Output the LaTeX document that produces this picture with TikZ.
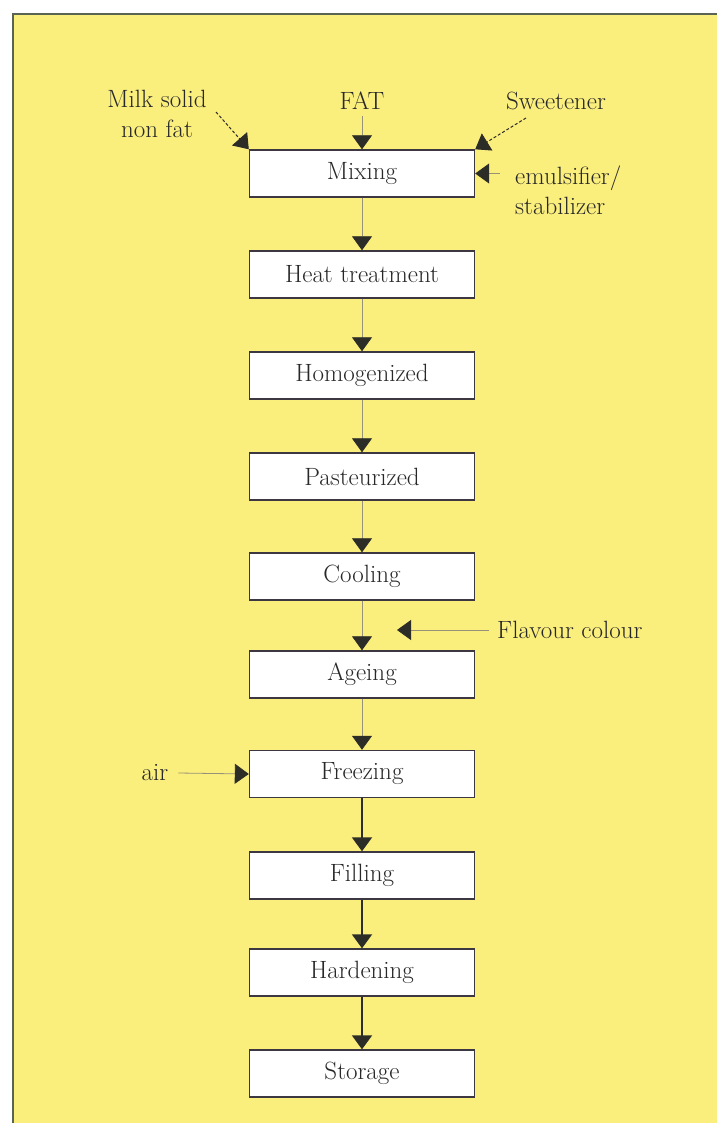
\documentclass[tikz,border=0pt]{standalone}
\usetikzlibrary{arrows.meta}
\definecolor{bgyellow}{RGB}{250,238,125}
\definecolor{framecol}{RGB}{90,100,85}
\definecolor{boxline}{RGB}{60,55,65}
\definecolor{arrowcol}{RGB}{45,45,40}
\definecolor{thinline}{RGB}{150,145,120}
\definecolor{txt}{RGB}{40,40,40}
\begin{document}
\begin{tikzpicture}[x=1pt,y=-1pt,
  font=\fontsize{25}{30}\selectfont,
  stepbox/.style={draw=boxline,line width=1.4pt,fill=white,minimum width=225pt,minimum height=47pt,inner sep=0pt,text=txt},
  lbl/.style={inner sep=0pt,text=txt},
  thinarrow/.style={-{Triangle[width=20pt,length=14pt,color=arrowcol]},draw=thinline,line width=0.8pt},
  thickarrow/.style={-{Triangle[width=20pt,length=14pt,color=arrowcol]},draw=arrowcol,line width=2pt},
  dasharrow/.style={-{Triangle[width=20pt,length=14pt,color=arrowcol]},draw=arrowcol,line width=1pt,dash pattern=on 3pt off 2pt}]
\useasboundingbox (0,0) rectangle (717,1123);
\fill[white] (0,0) rectangle (717,1123);
\fill[bgyellow] (13,14) rectangle (717,1123);
\draw[framecol,line width=2pt] (13,1123) -- (13,14) -- (717,14);

\node[stepbox] (mix) at (362,173.5) {Mixing};
\node[stepbox] (heat) at (362,274.5) {Heat treatment};
\node[stepbox] (homo) at (362,375.5) {Homogenized};
\node[stepbox] (past) at (362,476.5) {Pasteurized};
\node[stepbox] (cool) at (362,576.5) {Cooling};
\node[stepbox] (age) at (362,674.5) {Ageing};
\node[stepbox] (freeze) at (362,774) {Freezing};
\node[stepbox] (fill) at (362,875.5) {Filling};
\node[stepbox] (hard) at (362,972.5) {Hardening};
\node[stepbox] (store) at (362,1073.5) {Storage};

\node[lbl,align=center] (milk) at (157,114) {Milk solid\\non fat};
\node[lbl] (fat) at (362,101) {FAT};
\node[lbl] (sweet) at (556,101) {Sweetener};
\node[lbl,align=left,anchor=west] (emul) at (515,190) {emulsifier/\\stabilizer};
\node[lbl,anchor=west] (flav) at (497,630) {Flavour colour};
\node[lbl] (air) at (155,773) {air};

\coordinate (milkstart) at (216,112);
\coordinate (sweetstart) at (526,118);
\coordinate (flavend) at (397,630);

\draw[dasharrow] (milkstart) -- (mix.north west);
\draw[dasharrow] (sweetstart) -- (mix.north east);
\draw[thinarrow] (fat.south) ++(0,6) -- (mix.north);
\draw[thinarrow] (emul.west |- mix.east) ++(-15,0) -- (mix.east);
\draw[thinarrow] (mix) -- (heat);
\draw[thinarrow] (heat) -- (homo);
\draw[thinarrow] (homo) -- (past);
\draw[thinarrow] (past) -- (cool);
\draw[thinarrow] (cool) -- (age);
\draw[thinarrow] (flav.west) ++(-8,0) -- (flavend);
\draw[thinarrow] (age) -- (freeze);
\draw[thinarrow] (air.east) ++(10,0) -- (freeze.west);
\draw[thickarrow] (freeze) -- (fill);
\draw[thickarrow] (fill) -- (hard);
\draw[thickarrow] (hard) -- (store);
\end{tikzpicture}
\end{document}
